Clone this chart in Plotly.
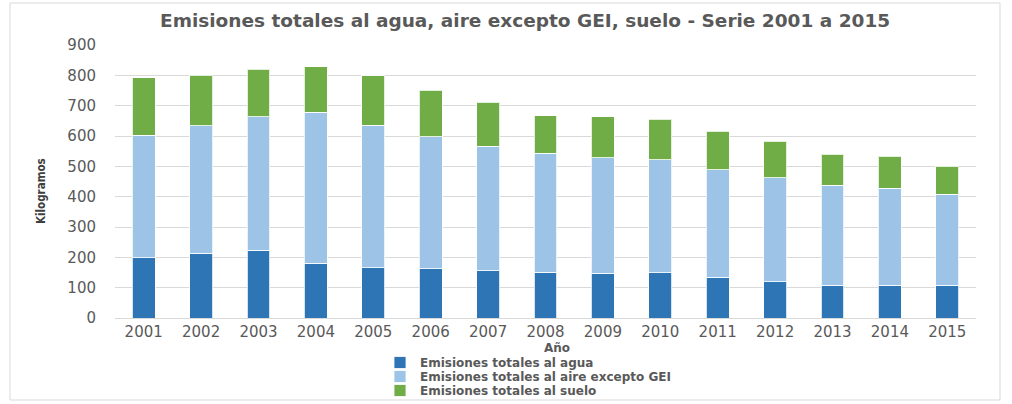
import plotly.graph_objects as go

years = ["2001", "2002", "2003", "2004", "2005", "2006", "2007", "2008",
         "2009", "2010", "2011", "2012", "2013", "2014", "2015"]
agua = [198, 213, 224, 180, 165, 162, 156, 151, 147, 149, 135, 120, 108, 108, 108]
aire = [405, 420, 440, 498, 471, 435, 411, 392, 381, 373, 354, 342, 329, 320, 300]
suelo = [189, 168, 156, 151, 163, 154, 144, 123, 135, 133, 127, 121, 103, 106, 93]

names = ["Emisiones totales al agua",
         "Emisiones totales al aire excepto GEI",
         "Emisiones totales al suelo"]
colors = ["#2E75B6", "#9DC3E6", "#70AD47"]
y_ticks = [0, 100, 200, 300, 400, 500, 600, 700, 800, 900]

W, H = 1012, 404
L, R, T, B = 115, 36, 45, 86

fig = go.Figure()
series = [agua, aire, suelo]
legends = ["legend", "legend2", "legend3"]
for vals, name, col, lg in zip(series, names, colors, legends):
    fig.add_trace(go.Bar(
        x=years, y=vals, name=name, legend=lg,
        marker=dict(color=col, line=dict(color="rgba(255,255,255,0.8)", width=1)),
    ))

gray = "#595959"
leg_common = dict(
    xref="container", yref="container", x=380 / W, xanchor="left",
    yanchor="middle", bgcolor="rgba(0,0,0,0)", borderwidth=0,
    font=dict(family="DejaVu Sans", size=12, color=gray, weight="bold"),
    itemwidth=30, tracegroupgap=0,
)
rows = [362.5, 376.5, 390.5]

fig.update_layout(
    width=W, height=H,
    margin=dict(l=L, r=R, t=T, b=B, pad=0, autoexpand=False),
    paper_bgcolor="white", plot_bgcolor="white",
    barmode="stack", bargap=0.6,
    font=dict(family="DejaVu Sans", color=gray),
    showlegend=True,
    legend=dict(**leg_common, y=1 - rows[0] / H),
    legend2=dict(**leg_common, y=1 - rows[1] / H),
    legend3=dict(**leg_common, y=1 - rows[2] / H),
    xaxis=dict(
        showgrid=False, showline=True, linecolor="#d9d9d9", linewidth=1,
        ticks="", tickfont=dict(family="DejaVu Sans", size=15, color=gray),
    ),
    yaxis=dict(
        range=[0, 900], tickvals=y_ticks, showgrid=True, gridcolor="#d9d9d9",
        gridwidth=1, zeroline=False, showline=False, ticks="",
        ticklabelstandoff=18,
        tickfont=dict(family="DejaVu Sans", size=15, color=gray),
    ),
    annotations=[
        dict(text="Emisiones totales al agua, aire excepto GEI, suelo - Serie 2001 a 2015",
             xref="paper", yref="paper", x=(524.5 - L) / (W - L - R),
             y=(H - B - 20) / (H - T - B), xanchor="center", yanchor="middle",
             showarrow=False,
             font=dict(family="DejaVu Sans", size=18.5, color=gray, weight="bold")),
        dict(text="Kilogramos", xref="paper", yref="paper",
             x=(41 - L) / (W - L - R), y=(H - B - 191) / (H - T - B),
             xanchor="center", yanchor="middle", textangle=-90, showarrow=False,
             font=dict(family="DejaVu Sans Condensed", size=11.5, color="#404040",
                       weight="bold")),
        dict(text="Año", xref="paper", yref="paper",
             x=(557 - L) / (W - L - R), y=(H - B - 348) / (H - T - B),
             xanchor="center", yanchor="middle", showarrow=False,
             font=dict(family="DejaVu Sans", size=12, color=gray, weight="bold")),
    ],
    shapes=[
        dict(type="rect", xref="paper", yref="paper",
             x0=(10 - L) / (W - L - R), x1=(1000 - L) / (W - L - R),
             y0=(H - B - 400) / (H - T - B), y1=(H - B - 3) / (H - T - B),
             line=dict(color="#d9d9d9", width=1), fillcolor="rgba(0,0,0,0)",
             layer="below"),
    ],
)

fig.write_html("out.html", config={"displayModeBar": False},
               post_script="document.body.style.margin='0';")
